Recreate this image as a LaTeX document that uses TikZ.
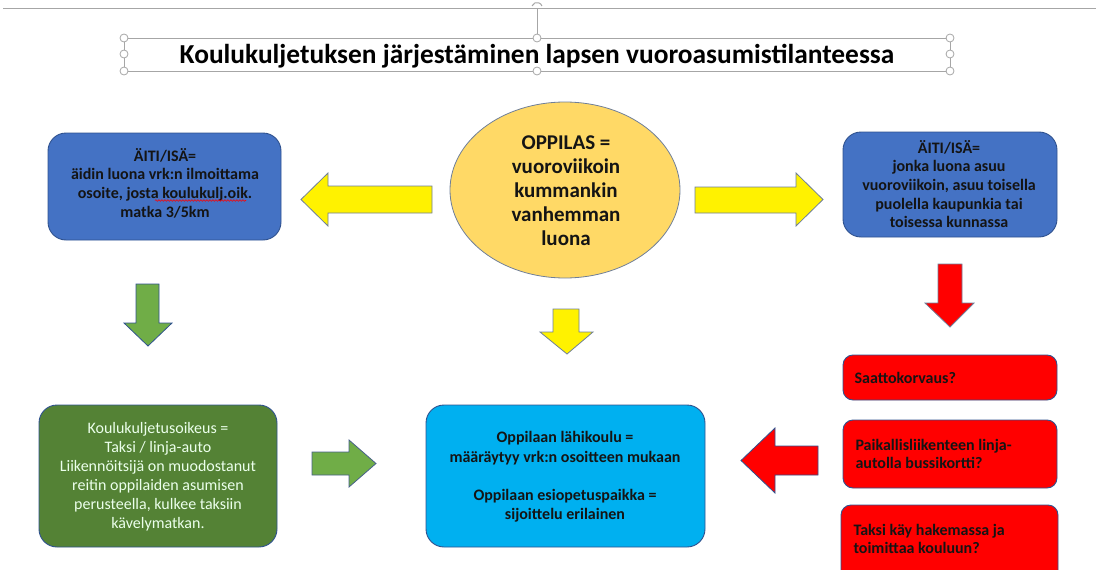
\documentclass[tikz,border=0pt]{standalone}
\usepackage{fontspec}
\setmainfont{Carlito}
\usetikzlibrary{decorations.pathmorphing}
\definecolor{bluebox}{HTML}{4472C4}
\definecolor{blueedge}{HTML}{2F528F}
\definecolor{goldfill}{HTML}{FFD966}
\definecolor{greenbox}{HTML}{548235}
\definecolor{greenarrow}{HTML}{70AD47}
\definecolor{cyanbox}{HTML}{00B0F0}
\definecolor{redbox}{HTML}{FF0000}
\definecolor{arrowedge}{HTML}{6F7F99}
\definecolor{handlegray}{HTML}{A6A6A6}
\definecolor{darktext}{HTML}{141414}
\tikzset{
  box/.style={draw=blueedge, line width=0.9pt, rounded corners=18pt, inner sep=0pt},
  redopt/.style={draw=blueedge, line width=0.9pt, fill=redbox, rounded corners=10pt},
  blockarrow/.style={draw=arrowedge, line width=0.8pt, line join=miter},
  handle/.style={circle, draw=handlegray, fill=white, line width=0.8pt, minimum size=8pt, inner sep=0pt},
  boxtext/.style={font=\fontsize{16}{18.6}\selectfont\bfseries, text=darktext, align=center},
  redtext/.style={font=\fontsize{16}{18}\selectfont\bfseries, text=darktext, align=left, anchor=west},
}
\begin{document}
\begin{tikzpicture}[x=1pt,y=-1pt]
\useasboundingbox (0,0) rectangle (1096,570);
\clip (0,0) rectangle (1096,570);
% page edge and selection frame of title
\draw[handlegray, line width=0.8pt] (3,8) -- (1096,8);
\draw[handlegray, line width=0.6pt] (537,8) -- (537,38);
\draw[handlegray, line width=1pt] (532,6) arc[start angle=200, end angle=340, radius=5.3];
\draw[handlegray, line width=0.8pt] (124,38) rectangle (950,71);
\node[font=\fontsize{27.4}{30}\selectfont\bfseries] (title) at (537,56) {Koulukuljetuksen järjestäminen lapsen vuoroasumistilanteessa};
\foreach \p/\n in {{124,38}/h1,{537,38}/h2,{950,38}/h3,{124,54}/h4,{950,54}/h5,{124,71}/h6,{537,71}/h7,{950,71}/h8}
  \node[handle] (\n) at (\p) {};
% left blue box
\draw[box, fill=bluebox] (48,133) rectangle (281,240);
\node[boxtext] (leftbox) at (165,183) {ÄITI/ISÄ=\\äidin luona vrk:n ilmoittama\\osoite, josta koulukulj.oik.\\matka 3/5km};
\draw[red, line width=0.6pt, decorate, decoration={snake, amplitude=0.8pt, segment length=3pt}] (155,200.5) -- (246,200.5);
% central ellipse
\draw[draw=arrowedge, line width=0.8pt, fill=goldfill] (565,190) ellipse[x radius=115, y radius=88];
\node[font=\fontsize{21}{24}\selectfont\bfseries, text=darktext, align=center] (pupil) at (566,191) {OPPILAS =\\vuoroviikoin\\kummankin\\vanhemman\\luona};
% right blue box
\draw[box, fill=bluebox] (843,132) rectangle (1057,237);
\node[boxtext] (rightbox) at (949,184) {ÄITI/ISÄ=\\jonka luona asuu\\vuoroviikoin, asuu toisella\\puolella kaupunkia tai\\toisessa kunnassa};
% yellow arrows left and right
\draw[blockarrow, fill=yellow] (432,186) -- (328,186) -- (328,173) -- (301,199.5) -- (328,226) -- (328,213) -- (432,213) -- cycle;
\draw[blockarrow, fill=yellow] (695,187) -- (796,187) -- (796,173) -- (823,199.5) -- (796,226) -- (796,213) -- (695,213) -- cycle;
% down arrows
\draw[blockarrow, draw=blueedge, fill=greenarrow] (136,284) -- (159,284) -- (159,323) -- (172,323) -- (148,346) -- (124,323) -- (136,323) -- cycle;
\draw[blockarrow, fill=yellow] (553,309) -- (579,309) -- (579,332) -- (593,332) -- (567,354) -- (540,332) -- (553,332) -- cycle;
\draw[blockarrow, fill=redbox] (938,264) -- (962,264) -- (962,303) -- (974,303) -- (950,327) -- (925,303) -- (938,303) -- cycle;
% green box
\draw[box, fill=greenbox] (39,405) rectangle (277,547);
\node[font=\fontsize{16}{19}\selectfont, text=white!92!green, align=center] (rightsbox) at (158,477) {Koulukuljetusoikeus =\\Taksi / linja-auto\\Liikennöitsijä on muodostanut\\reitin oppilaiden asumisen\\perusteella, kulkee taksiin\\kävelymatkan.};
% green right arrow
\draw[blockarrow, draw=blueedge!70!gray, fill=greenarrow] (312,452) -- (349,452) -- (349,440) -- (376,463.5) -- (349,487) -- (349,475) -- (312,475) -- cycle;
% cyan box
\draw[box, fill=cyanbox] (426,405) rectangle (705,547);
\node[font=\fontsize{16}{19.2}\selectfont\bfseries, text=darktext, align=center] (school) at (565,477) {Oppilaan lähikoulu =\\määräytyy vrk:n osoitteen mukaan\\[19.2pt]Oppilaan esiopetuspaikka =\\sijoittelu erilainen};
% red left arrow
\draw[blockarrow, draw=blueedge, fill=redbox] (818,446) -- (775,446) -- (775,428) -- (741,460.5) -- (775,493) -- (775,475) -- (818,475) -- cycle;
% red option boxes
\draw[redopt] (843,355) rectangle (1057,400);
\node[redtext] (opt1) at (851,377.5) {Saattokorvaus?};
\draw[redopt] (843,420) rectangle (1057,488);
\node[redtext] (opt2) at (852,454) {Paikallisliikenteen linja-\\autolla bussikortti?};
\draw[redopt] (841,505) rectangle (1058,585);
\node[redtext] (opt3) at (850,539) {Taksi käy hakemassa ja\\toimittaa kouluun?};
\end{tikzpicture}
\end{document}
